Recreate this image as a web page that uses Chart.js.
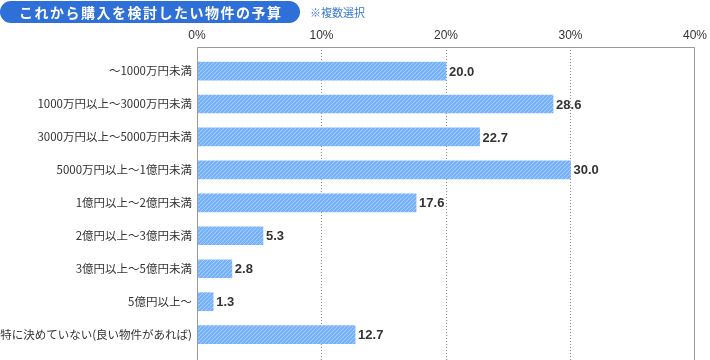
<!DOCTYPE html>
<html>
<head>
<meta charset="utf-8">
<script src="https://cdn.jsdelivr.net/npm/chart.js@4"></script>
<style>
body { margin: 0; background: #fff; font-family: "Noto Sans CJK JP", sans-serif; }
#wrap { position: relative; width: 710px; height: 360px; }
#titulo { position: absolute; left: 0; top: 1px; width: 300px; height: 22px; background: #2f6fd8; border-radius: 11px; color: #fff; font-size: 14px; font-weight: bold; line-height: 22px; text-indent: 19px; letter-spacing: 1.5px; }
#nota { position: absolute; left: 310px; top: 4px; color: #3a78d8; font-size: 11px; line-height: 16px; }
canvas { position: absolute; left: 0; top: 0; }
</style>
</head>
<body>
<div id="wrap">
<canvas id="presupuesto" width="710" height="360"></canvas>
<div id="titulo">これから購入を検討したい物件の予算</div>
<div id="nota">※複数選択</div>
</div>
<script>
// categorias y valores (%)
var categorias = ["～1000万円未満", "1000万円以上～3000万円未満", "3000万円以上～5000万円未満", "5000万円以上～1億円未満",
    "1億円以上～2億円未満", "2億円以上～3億円未満", "3億円以上～5億円未満", "5億円以上～", "特に決めていない(良い物件があれば)"];
var valores = [20.0, 28.6, 22.7, 30.0, 17.6, 5.3, 2.8, 1.3, 12.7];
var ticksX = [0, 10, 20, 30, 40];

// patron de rayas para las barras
function rayas() {
    var c = document.createElement("canvas");
    c.width = 4; c.height = 4;
    var ctx = c.getContext("2d");
    ctx.fillStyle = "rgb(120,178,255)";
    ctx.fillRect(0, 0, 4, 4);
    ctx.strokeStyle = "rgba(170,210,255,0.9)";
    ctx.lineWidth = 1;
    ctx.beginPath();
    ctx.moveTo(-1, 5); ctx.lineTo(5, -1);
    ctx.moveTo(-1, 1); ctx.lineTo(1, -1);
    ctx.moveTo(3, 5); ctx.lineTo(5, 3);
    ctx.stroke();
    return ctx.createPattern(c, "repeat");
}

var marco = {
    id: "marco",
    afterDraw: function(chart) {
        var ctx = chart.ctx, a = chart.chartArea;
        ctx.save();
        ctx.strokeStyle = "#999";
        ctx.lineWidth = 1;
        ctx.beginPath();
        ctx.moveTo(a.left + 0.5, a.bottom);
        ctx.lineTo(a.left + 0.5, a.top + 0.5);
        ctx.lineTo(a.right - 0.5, a.top + 0.5);
        ctx.lineTo(a.right - 0.5, a.bottom);
        ctx.stroke();
        // etiquetas de valor
        var meta = chart.getDatasetMeta(0);
        ctx.fillStyle = "#333";
        ctx.font = "bold 13px Arial, Helvetica, sans-serif";
        ctx.textBaseline = "middle";
        meta.data.forEach(function(bar, i) {
            ctx.fillText(valores[i].toFixed(1), bar.x + 3, bar.y + 1);
        });
        ctx.restore();
    }
};

var grafica = document.getElementById("presupuesto");
var miGrafica = new Chart(grafica, {
    type: "bar",
    data: {
        datasets: [{
            data: valores.map(function(v, i) { return { x: v, y: i }; }),
            backgroundColor: rayas(),
            borderWidth: 0,
            barThickness: 18
        }]
    },
    options: {
        indexAxis: "y",
        responsive: false,
        animation: false,
        layout: { padding: { right: 15, bottom: 0, left: 0, top: 0 } },
        plugins: { legend: { display: false }, tooltip: { enabled: false } },
        scales: {
            x: {
                position: "top",
                min: 0, max: 40,
                afterFit: function(s) { s.height = 47; s.paddingLeft = 0; s.paddingRight = 0; },
                afterBuildTicks: function(s) { s.ticks = ticksX.map(function(v) { return { value: v }; }); },
                ticks: { color: "#333", padding: 4, font: { size: 12, family: "Arial, Helvetica, sans-serif" },
                    callback: function(v) { return v + "%"; } },
                grid: { drawTicks: false, color: function(c) { return (c.tick && (c.tick.value === 0 || c.tick.value === 40)) ? "rgba(0,0,0,0)" : "#888"; } },
                border: { display: false, dash: [1, 2] }
            },
            y: {
                type: "linear",
                reverse: true,
                offset: false,
                min: -0.73, max: 8.77,
                afterFit: function(s) { s.width = 197; s.paddingTop = 0; s.paddingBottom = 0; },
                afterBuildTicks: function(s) { s.ticks = categorias.map(function(_, i) { return { value: i }; }); },
                ticks: { color: "#333", padding: 5, font: { size: 11.5, family: "'Noto Sans CJK JP', sans-serif" },
                    callback: function(v) { return categorias[v]; } },
                grid: { display: false, drawTicks: false },
                border: { display: false }
            }
        }
    },
    plugins: [marco]
});
</script>
</body>
</html>
